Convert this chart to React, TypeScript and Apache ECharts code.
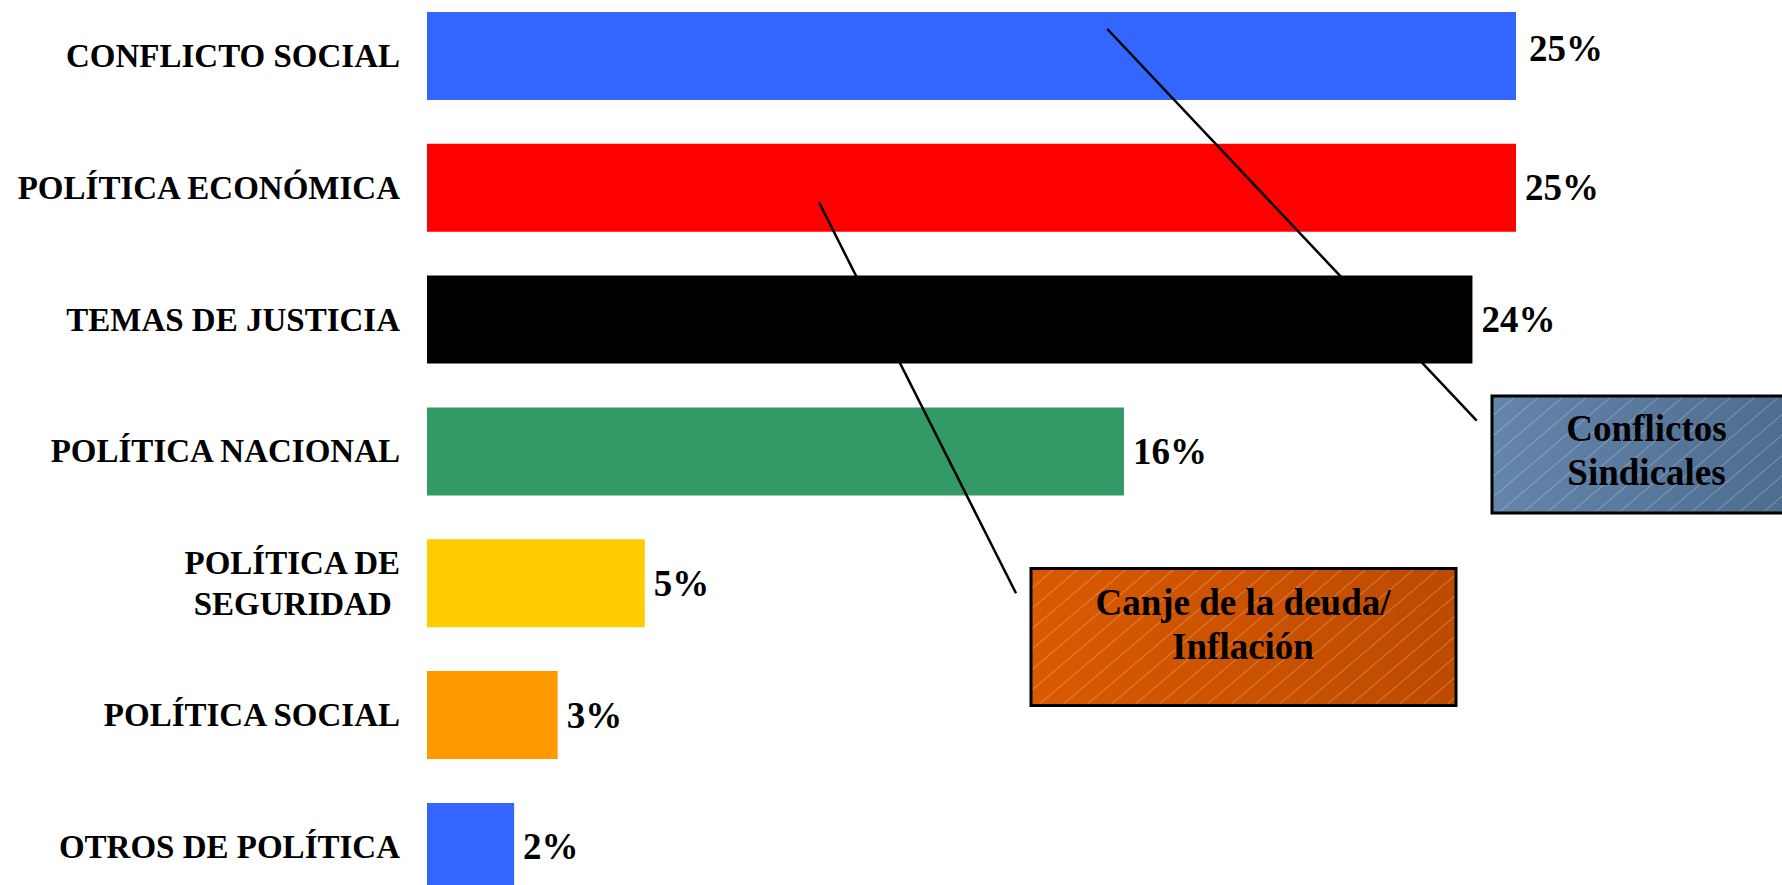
import React, { useEffect, useRef } from "react";
import * as echarts from "echarts";

const categories = [
  "CONFLICTO SOCIAL",
  "POLÍTICA ECONÓMICA",
  "TEMAS DE JUSTICIA",
  "POLÍTICA NACIONAL",
  "POLÍTICA DE\nSEGURIDAD ",
  "POLÍTICA SOCIAL",
  "OTROS DE POLÍTICA",
];
const values = [25, 25, 24, 16, 5, 3, 2];
const barColors = ["#3366FF", "#FF0000", "#000000", "#339966", "#FFCC00", "#FF9900", "#3366FF"];
const calloutTexts = ["Conflictos\nSindicales", "Canje de la deuda/\nInflación"];

const FONT = "'Liberation Serif', 'Times New Roman', serif";

type Box = { x: number; y: number; w: number; h: number };

function hatch(b: Box, k: number, step: number, z: number) {
  const out: any[] = [];
  const yb = b.y + b.h;
  for (let c = b.x - b.h / k; c < b.x + b.w; c += step) {
    const xs = Math.max(c, b.x);
    const xe = Math.min(c + b.h / k, b.x + b.w);
    if (xe - xs < 1) continue;
    out.push({
      type: "line",
      z,
      silent: true,
      shape: { x1: xs, y1: yb - k * (xs - c), x2: xe, y2: yb - k * (xe - c) },
      style: { stroke: "rgba(255,255,255,0.32)", lineWidth: 1 },
    });
  }
  return out;
}

export default function App() {
  const ref = useRef<HTMLDivElement>(null);
  useEffect(() => {
    if (!ref.current) return;
    const chart = echarts.init(ref.current, undefined, { renderer: "svg" });

    const boxSind: Box = { x: 1492, y: 396, w: 312, h: 117 };
    const boxCanje: Box = { x: 1031, y: 568.5, w: 425, h: 137 };

    const boxGraphic = (b: Box, c1: string, c2: string, text: string, cx: number, cy: number) => [
      {
        type: "rect",
        z: 100,
        shape: { x: b.x, y: b.y, width: b.w, height: b.h },
        style: {
          fill: {
            type: "linear",
            x: 0,
            y: 0,
            x2: 1,
            y2: 0,
            colorStops: [
              { offset: 0, color: c1 },
              { offset: 1, color: c2 },
            ],
          },
          stroke: "none",
        },
      },
      ...hatch(b, 0.85, 24, 101),
      {
        type: "rect",
        z: 102,
        shape: { x: b.x, y: b.y, width: b.w, height: b.h },
        style: { fill: "none", stroke: "#000", lineWidth: 3 },
      },
      {
        type: "text",
        z: 103,
        x: cx,
        y: cy,
        style: {
          text,
          fill: "#000",
          font: `bold 37px ${FONT}`,
          align: "center",
          verticalAlign: "middle",
          lineHeight: 44,
        },
      },
    ];

    chart.setOption({
      animation: false,
      backgroundColor: "#ffffff",
      grid: {
        left: 427,
        top: -10,
        width: 43.56 * 30,
        height: 922.8,
        containLabel: false,
        outerBoundsMode: "none",
      },
      xAxis: {
        type: "value",
        min: 0,
        max: 30,
        show: false,
      },
      yAxis: {
        type: "category",
        data: categories,
        inverse: true,
        axisLine: { show: false },
        axisTick: { show: false },
        splitLine: { show: false },
        axisLabel: {
          margin: 27,
          color: "#000",
          fontFamily: FONT,
          fontWeight: "bold",
          fontSize: 33,
          lineHeight: 41,
          align: "right",
        },
      },
      series: [
        {
          type: "bar",
          barWidth: 88,
          data: values.map((v, i) => ({
            value: v,
            itemStyle: { color: barColors[i] },
            label: i === 0 ? { offset: [4, -7] } : undefined,
          })),
          label: {
            show: true,
            position: "right",
            distance: 9,
            formatter: "{c}%",
            color: "#000",
            fontFamily: FONT,
            fontWeight: "bold",
            fontSize: 37,
          },
        },
      ],
      graphic: [
        {
          type: "line",
          z: 110,
          shape: { x1: 1107.3, y1: 29, x2: 1476.7, y2: 420.7 },
          style: { stroke: "#000", lineWidth: 2.5 },
        },
        {
          type: "line",
          z: 110,
          shape: { x1: 819, y1: 202.3, x2: 1016, y2: 593.3 },
          style: { stroke: "#000", lineWidth: 2.5 },
        },
        ...boxGraphic(boxSind, "#6485AC", "#4C6B8C", calloutTexts[0], 1646.5, 450.25),
        ...boxGraphic(boxCanje, "#DA5A00", "#BD4A00", calloutTexts[1], 1243, 624.75),
      ],
    });
    return () => chart.dispose();
  }, []);
  return (
    <div
      ref={ref}
      style={{ position: "fixed", left: 0, top: 0, width: 1782, height: 885, background: "#fff" }}
    />
  );
}
